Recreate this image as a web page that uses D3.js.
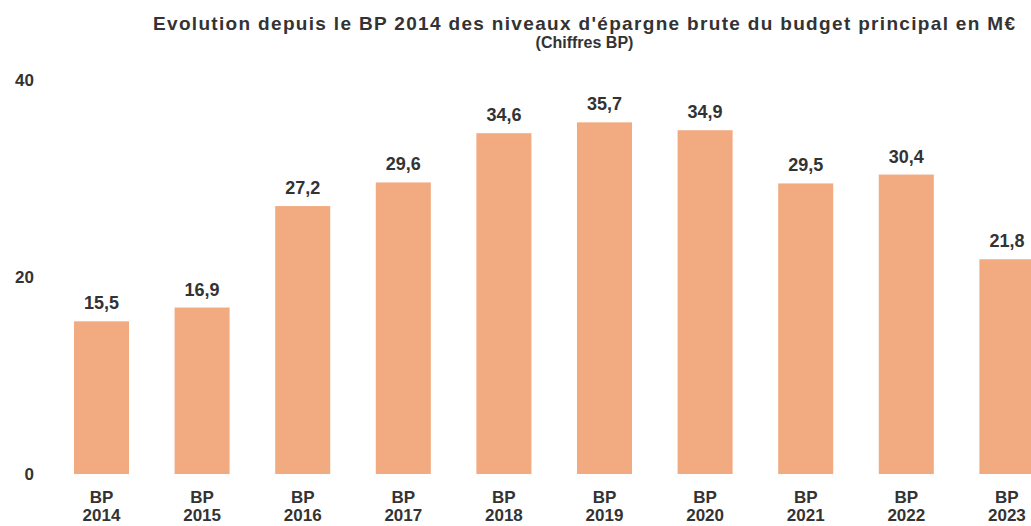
<!DOCTYPE html>
<html>
<head>
<meta charset="utf-8">
<script src="https://cdn.jsdelivr.net/npm/d3@7"></script>
<style>
  body { margin: 0; background: #fff; overflow: hidden; }
  svg text { font-family: "Liberation Sans", Arial, sans-serif; font-weight: bold; fill: #333; }
</style>
</head>
<body>
<div id="vis"></div>
<script>
const years = ["2014", "2015", "2016", "2017", "2018", "2019", "2020", "2021", "2022", "2023"];
const values = [15.5, 16.9, 27.2, 29.6, 34.6, 35.7, 34.9, 29.5, 30.4, 21.8];
const yTicks = [0, 20, 40];
const title = "Evolution depuis le BP 2014 des niveaux d'épargne brute du budget principal en M€";
const subtitle = "(Chiffres BP)";

const FRAME_WIDTH = 1031;
const FRAME_HEIGHT = 526;

const svg = d3.select("#vis")
  .append("svg")
  .attr("width", FRAME_WIDTH)
  .attr("height", FRAME_HEIGHT);

// scales
const x = d3.scaleBand()
  .domain(years)
  .range([51.2, 1057.2])
  .paddingInner(0.453)
  .paddingOuter(0.2265);

const y = d3.scaleLinear()
  .domain([0, 40])
  .range([474, 80]);

const fmt = d => d.toFixed(1).replace(".", ",");

// title
svg.append("text")
  .attr("x", 584)
  .attr("y", 30)
  .attr("text-anchor", "middle")
  .attr("font-size", "19px")
  .attr("textLength", 862)
  .attr("lengthAdjust", "spacing")
  .text(title);

svg.append("text")
  .attr("x", 584.5)
  .attr("y", 48)
  .attr("text-anchor", "middle")
  .attr("font-size", "16px")
  .text(subtitle);

// y axis (labels only)
const yAxis = d3.axisLeft(y).tickValues(yTicks).tickSize(0).tickPadding(0);
const gy = svg.append("g")
  .attr("transform", "translate(34,0)")
  .call(yAxis);
gy.select(".domain").remove();
gy.selectAll("text")
  .attr("font-size", "17px")
  .attr("font-family", null)
  .attr("fill", null);

// bars
svg.selectAll("rect.bar")
  .data(values)
  .enter()
  .append("rect")
  .attr("class", "bar")
  .attr("x", (d, i) => x(years[i]))
  .attr("y", d => y(d))
  .attr("width", x.bandwidth())
  .attr("height", d => y(0) - y(d))
  .attr("fill", "#F2AA80");

// value labels
svg.selectAll("text.val")
  .data(values)
  .enter()
  .append("text")
  .attr("class", "val")
  .attr("x", (d, i) => x(years[i]) + x.bandwidth() / 2)
  .attr("y", d => y(d) - 12)
  .attr("text-anchor", "middle")
  .attr("font-size", "18px")
  .text(fmt);

// x labels
const xl = svg.selectAll("text.xl")
  .data(years)
  .enter()
  .append("text")
  .attr("class", "xl")
  .attr("text-anchor", "middle")
  .attr("font-size", "17px");

xl.append("tspan")
  .attr("x", d => x(d) + x.bandwidth() / 2)
  .attr("y", 503)
  .text("BP");

xl.append("tspan")
  .attr("x", d => x(d) + x.bandwidth() / 2)
  .attr("y", 521)
  .text(d => d);
</script>
</body>
</html>
